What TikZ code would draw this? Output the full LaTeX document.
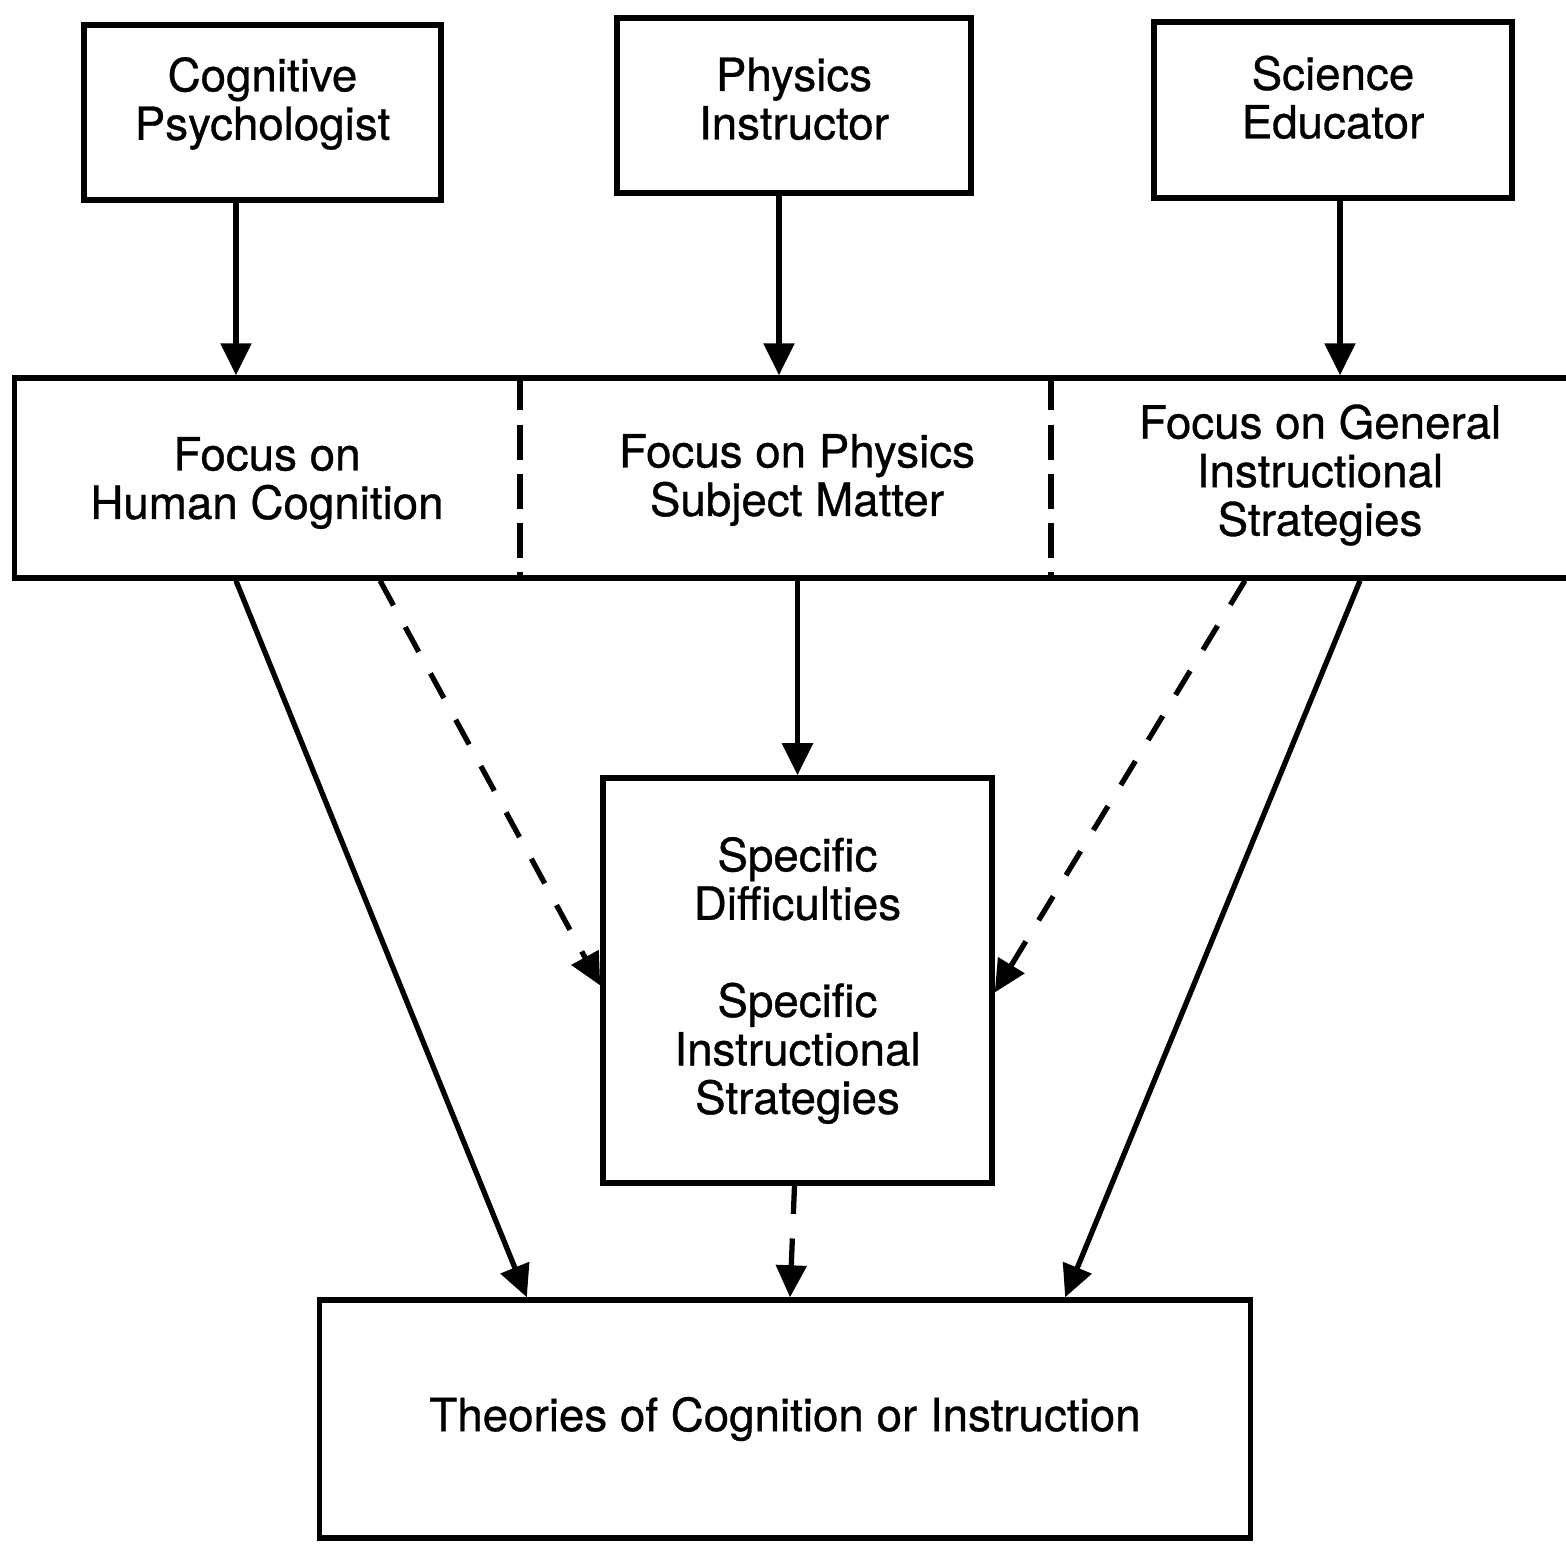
\documentclass[tikz,border=0pt]{standalone}
\usepackage{fontspec}
\setmainfont{TeX Gyre Heros}[FakeBold=0.7]
\usetikzlibrary{arrows.meta,positioning}

\tikzset{
  box/.style={draw, line width=1.5pt, align=center, inner sep=0pt, font=\fontsize{13}{13.8}\selectfont},
  txt/.style={align=center, inner sep=0pt, font=\fontsize{13}{13.8}\selectfont},
  divider/.style={line width=1.5pt, dash pattern=on 10pt off 4pt},
  arr/.style={line width=1.5pt, -{Triangle[length=0.32cm,width=0.3cm]}},
  darr/.style={arr, dash pattern=on 8pt off 7pt},
}

\begin{document}
\begin{tikzpicture}[x=0.01cm,y=-0.01cm]
    \useasboundingbox (0,0) rectangle (1566,1551);
    % who looks
    \node[box, minimum width=3.57cm, minimum height=1.75cm, text depth=0.28cm] (cogpsy) at (262.5,112.5) {Cognitive\\Psychologist};
    \node[box, minimum width=3.54cm, minimum height=1.75cm, text depth=0.14cm] (physinst) at (794,105.5) {Physics\\Instructor};
    \node[box, minimum width=3.58cm, minimum height=1.76cm, text depth=0.26cm] (scied) at (1333,110) {Science\\Educator};
    % focus row
    \node[box, minimum width=15.6cm, minimum height=2cm] (focusrow) at (795,478) {};
    \draw[divider] (focusrow.north -| 520,0) -- (focusrow.south -| 520,0);
    \draw[divider] (focusrow.north -| 1051,0) -- (focusrow.south -| 1051,0);
    \node[txt] (focushum) at (267,483) {Focus on\\Human Cognition};
    \node[txt] (focusphys) at (797,480) {Focus on Physics\\Subject Matter};
    \node[txt] (focusgen) at (1320,475) {Focus on General\\Instructional\\Strategies};
    % results
    \node[box, minimum width=3.89cm, minimum height=4.05cm] (spec) at (797.5,980.5) {Specific\\Difficulties\\[13.8pt]Specific\\Instructional\\Strategies};
    \node[box, minimum width=9.3cm, minimum height=2.38cm] (theories) at (785,1419) {Theories of Cognition or Instruction};
    % arrows down
    \draw[arr] ([xshift=-0.265cm]cogpsy.south) -- ([xshift=-0.265cm]cogpsy.south |- focusrow.north);
    \draw[arr] ([xshift=-0.15cm]physinst.south) -- ([xshift=-0.15cm]physinst.south |- focusrow.north);
    \draw[arr] ([xshift=0.07cm]scied.south) -- ([xshift=0.07cm]scied.south |- focusrow.north);
    \draw[arr] ([xshift=-0.31cm]focushum.south |- focusrow.south) -- ([xshift=-2.58cm]theories.north);
    \draw[darr] ([xshift=1.13cm]focushum.south |- focusrow.south) -- ([yshift=-0.05cm]spec.west);
    \draw[arr] (spec.north |- focusrow.south) -- (spec.north);
    \draw[darr] ([xshift=-0.75cm]focusgen.south |- focusrow.south) -- ([yshift=-0.12cm]spec.east);
    \draw[arr] ([xshift=0.4cm]focusgen.south |- focusrow.south) -- ([xshift=2.8cm]theories.north);
    \draw[darr] ([xshift=-0.03cm]spec.south) -- ([xshift=0.05cm]theories.north);
\end{tikzpicture}
\end{document}
